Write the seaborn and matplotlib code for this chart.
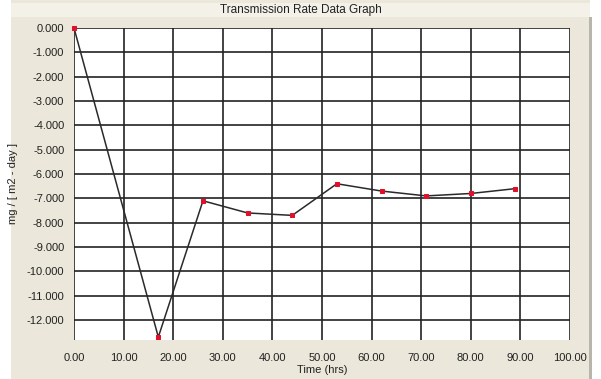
import matplotlib
matplotlib.use("Agg")
import matplotlib.pyplot as plt
import seaborn as sns
import pandas as pd
from matplotlib.patches import Rectangle

time_hrs = [0, 17, 26, 35, 44, 53, 62, 71, 80, 89]
rate = [0.0, -12.7, -7.1, -7.6, -7.7, -6.4, -6.7, -6.9, -6.8, -6.6]
x_ticks = [0, 10, 20, 30, 40, 50, 60, 70, 80, 90, 100]
y_ticks = [0, -1, -2, -3, -4, -5, -6, -7, -8, -9, -10, -11, -12]

df = pd.DataFrame({"Time (hrs)": time_hrs, "rate": rate})

sns.set_style("white")
plt.rcParams["font.family"] = ["Liberation Sans", "DejaVu Sans"]

W, H = 601, 379
fig = plt.figure(figsize=(W / 100, H / 100), dpi=100)
fig.patch.set_facecolor("white")
# beige panel
fig.add_artist(Rectangle((11 / W, 0), (590 - 11) / W, 1, transform=fig.transFigure,
                         facecolor="#ebe7da", edgecolor="none", zorder=-2))
# title band
fig.add_artist(Rectangle((11 / W, 1 - 17 / H), (590 - 11) / W, 14 / H, transform=fig.transFigure,
                         facecolor="#f3f1e8", edgecolor="none", zorder=-1))
# right shadow border
fig.add_artist(Rectangle((589 / W, 0), 3 / W, 1 - 17 / H, transform=fig.transFigure,
                         facecolor="#b8b5ac", edgecolor="none", zorder=-1))

ax = fig.add_axes([74 / W, 1 - 339.5 / H, (570 - 74) / W, (339.5 - 28) / H])
ax.set_facecolor("white")

sns.lineplot(data=df, x="Time (hrs)", y="rate", ax=ax, color="#2a2a2a", linewidth=1.1,
             marker="s", markersize=3.5, markerfacecolor="#e0102a", markeredgecolor="#e0102a",
             zorder=5, clip_on=False)

ax.set_xlim(0, 100)
ax.set_ylim(-12.8, 0)
ax.set_xticks(x_ticks)
ax.set_yticks(y_ticks)
ax.set_xticklabels([f"{v:.2f}" for v in x_ticks], fontsize=8, color="#222")
ax.set_yticklabels([f"{v:.3f}" for v in y_ticks], fontsize=8, color="#222")
ax.grid(True, color="#222222", linewidth=1.2)
ax.tick_params(axis="both", direction="out", length=5, width=1.2, color="#222", pad=2)
ax.tick_params(axis="x", length=8, pad=2)
for s in ax.spines.values():
    s.set_visible(False)
ax.set_xlabel("Time (hrs)", fontsize=8, color="#222", labelpad=1)
ax.set_ylabel("mg / [ m2 - day ]", fontsize=8, color="#222", labelpad=6)
fig.text(0.5, 1 - 10 / H, "Transmission Rate Data Graph", ha="center", va="center",
         fontsize=8.5, color="#222")

fig.savefig("out.png", dpi=100, facecolor=fig.get_facecolor())
